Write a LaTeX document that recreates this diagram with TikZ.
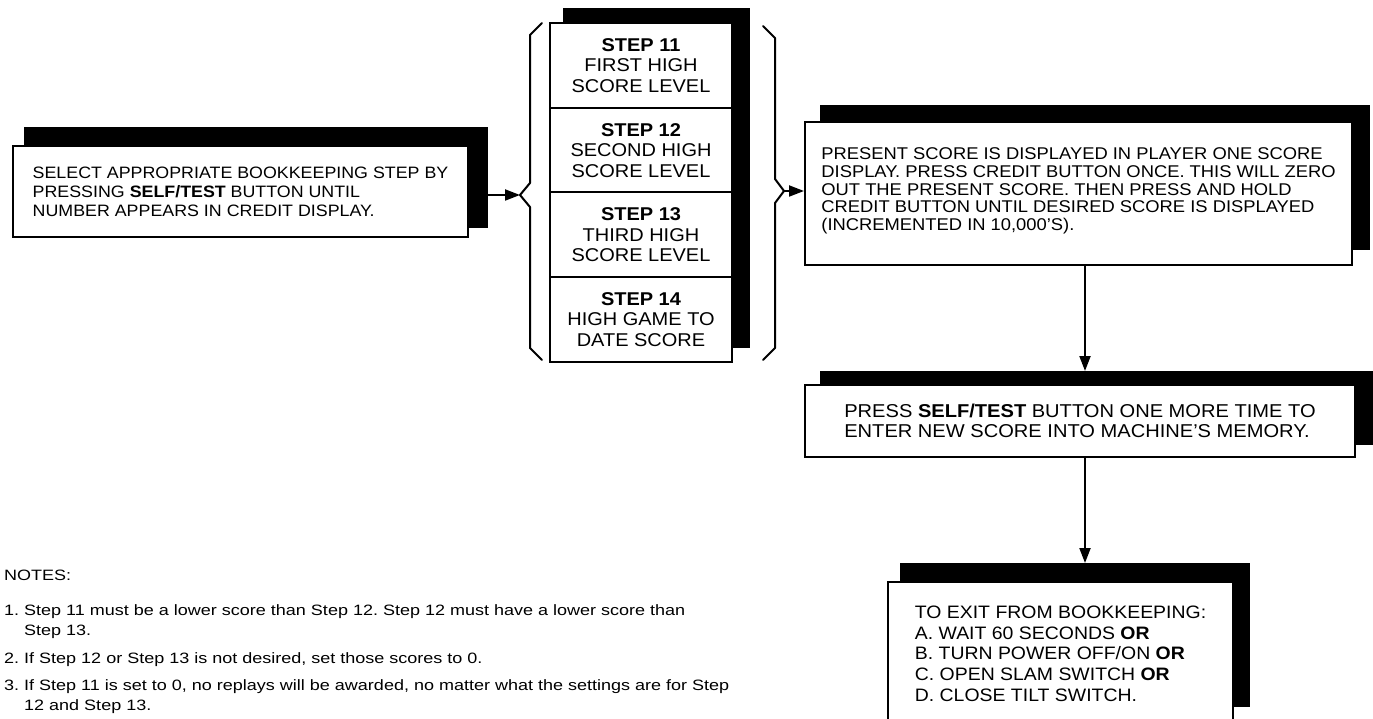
\documentclass[tikz,border=0pt]{standalone}
\usepackage{fontspec}
\setmainfont{Liberation Sans}[FakeStretch=1.08]
\newfontfamily\notefont{Liberation Sans}[FakeStretch=1.2]
\usetikzlibrary{arrows.meta}
\frenchspacing
\begin{document}
\begin{tikzpicture}[x=1pt,y=-1pt,
  shadowbox/.style={fill=black, inner sep=0pt, outer sep=0pt},
  textbox/.style={draw=black, fill=white, line width=2pt, inner sep=0pt, align=left},
  stepbox/.style={draw=black, fill=white, line width=2pt, inner sep=0pt, align=center,
    minimum width=182pt, minimum height=85pt, font=\fontsize{18.5}{20.5}\selectfont},
  conn/.style={line width=2pt, -{Triangle[length=15pt,width=11pt]}},
  bracket/.style={line width=2pt, line join=round, line cap=round},
  notestyle/.style={inner sep=0pt, align=left, font=\notefont\fontsize{15}{20}\selectfont}]
\useasboundingbox (0,0) rectangle (1373,719);
\clip (0,0) rectangle (1373,719);

% shadows
\node[shadowbox, minimum width=464pt, minimum height=101pt] (s1) at (256,177.5) {};
\node[shadowbox, minimum width=187pt, minimum height=340pt] (s2) at (656.5,178) {};
\node[shadowbox, minimum width=550pt, minimum height=145pt] (s3) at (1095,177.5) {};
\node[shadowbox, minimum width=553pt, minimum height=74pt] (s4) at (1096.5,408) {};
\node[shadowbox, minimum width=350pt, minimum height=144pt] (s5) at (1075,635) {};

% boxes
\node[textbox, minimum width=455pt, minimum height=91pt, font=\fontsize{16.5}{19}\selectfont] (select) at (240.5,191.5)
  {SELECT APPROPRIATE BOOKKEEPING STEP BY\\PRESSING \textbf{SELF/TEST} BUTTON UNTIL\\NUMBER APPEARS IN CREDIT DISPLAY.};

\node[stepbox] (st11) at (641,65.5) {\textbf{STEP 11}\\FIRST HIGH\\SCORE LEVEL};
\node[stepbox] (st12) at (641,150.5) {\textbf{STEP 12}\\SECOND HIGH\\SCORE LEVEL};
\node[stepbox] (st13) at (641,235) {\textbf{STEP 13}\\THIRD HIGH\\SCORE LEVEL};
\node[stepbox] (st14) at (641,319.5) {\textbf{STEP 14}\\HIGH GAME TO\\DATE SCORE};

\node[textbox, minimum width=547pt, minimum height=143pt, font=\fontsize{17}{17.6}\selectfont] (present) at (1078.5,193.5)
  {PRESENT SCORE IS DISPLAYED IN PLAYER ONE SCORE\\DISPLAY. PRESS CREDIT BUTTON ONCE. THIS WILL ZERO\\OUT THE PRESENT SCORE. THEN PRESS AND HOLD\\CREDIT BUTTON UNTIL DESIRED SCORE IS DISPLAYED\\(INCREMENTED IN 10,000'S).\\[-9pt]\mbox{}};

\node[textbox, minimum width=550pt, minimum height=72pt, font=\fontsize{18.6}{19.5}\selectfont] (enter) at (1080,421)
  {PRESS \textbf{SELF/TEST} BUTTON ONE MORE TIME TO\\ENTER NEW SCORE INTO MACHINE'S MEMORY.};

\node[textbox, minimum width=345pt, minimum height=143pt, font=\fontsize{18}{20.7}\selectfont] (exit) at (1060.5,653.5)
  {TO EXIT FROM BOOKKEEPING:\\A. WAIT 60 SECONDS \textbf{OR}\\B. TURN POWER OFF/ON \textbf{OR}\\C. OPEN SLAM SWITCH \textbf{OR}\\D. CLOSE TILT SWITCH.};

% braces
\coordinate (lb) at (520,195);
\coordinate (rb) at (784,191);
\draw[bracket] (542,23) -- (530,35) -- (530,183) -- (lb) -- (530,207) -- (530,348) -- (542,360);
\draw[bracket] (763,26) -- (775,38) -- (775,179) -- (rb) -- (775,203) -- (775,348) -- (763,360);

% connectors
\coordinate (vx) at (1085,0);
\draw[conn] (lb -| s1.east) -- (lb);
\draw[conn] (rb) -- (rb -| present.west);
\draw[conn] (present.south -| vx) -- (s4.north -| vx);
\draw[conn] (enter.south -| vx) -- (s5.north -| vx);

% notes
\node[notestyle, anchor=base west] (nh) at (4,580) {NOTES:};
\node[notestyle, anchor=west] (n1) at (4,622) {1. Step 11 must be a lower score than Step 12. Step 12 must have a lower score than\\\hphantom{1.\ }Step 13.};
\node[notestyle, anchor=base west] (n2) at (4,663) {2. If Step 12 or Step 13 is not desired, set those scores to 0.};
\node[notestyle, anchor=west] (n3) at (4,697) {3. If Step 11 is set to 0, no replays will be awarded, no matter what the settings are for Step\\\hphantom{3.\ }12 and Step 13.};
\end{tikzpicture}
\end{document}
